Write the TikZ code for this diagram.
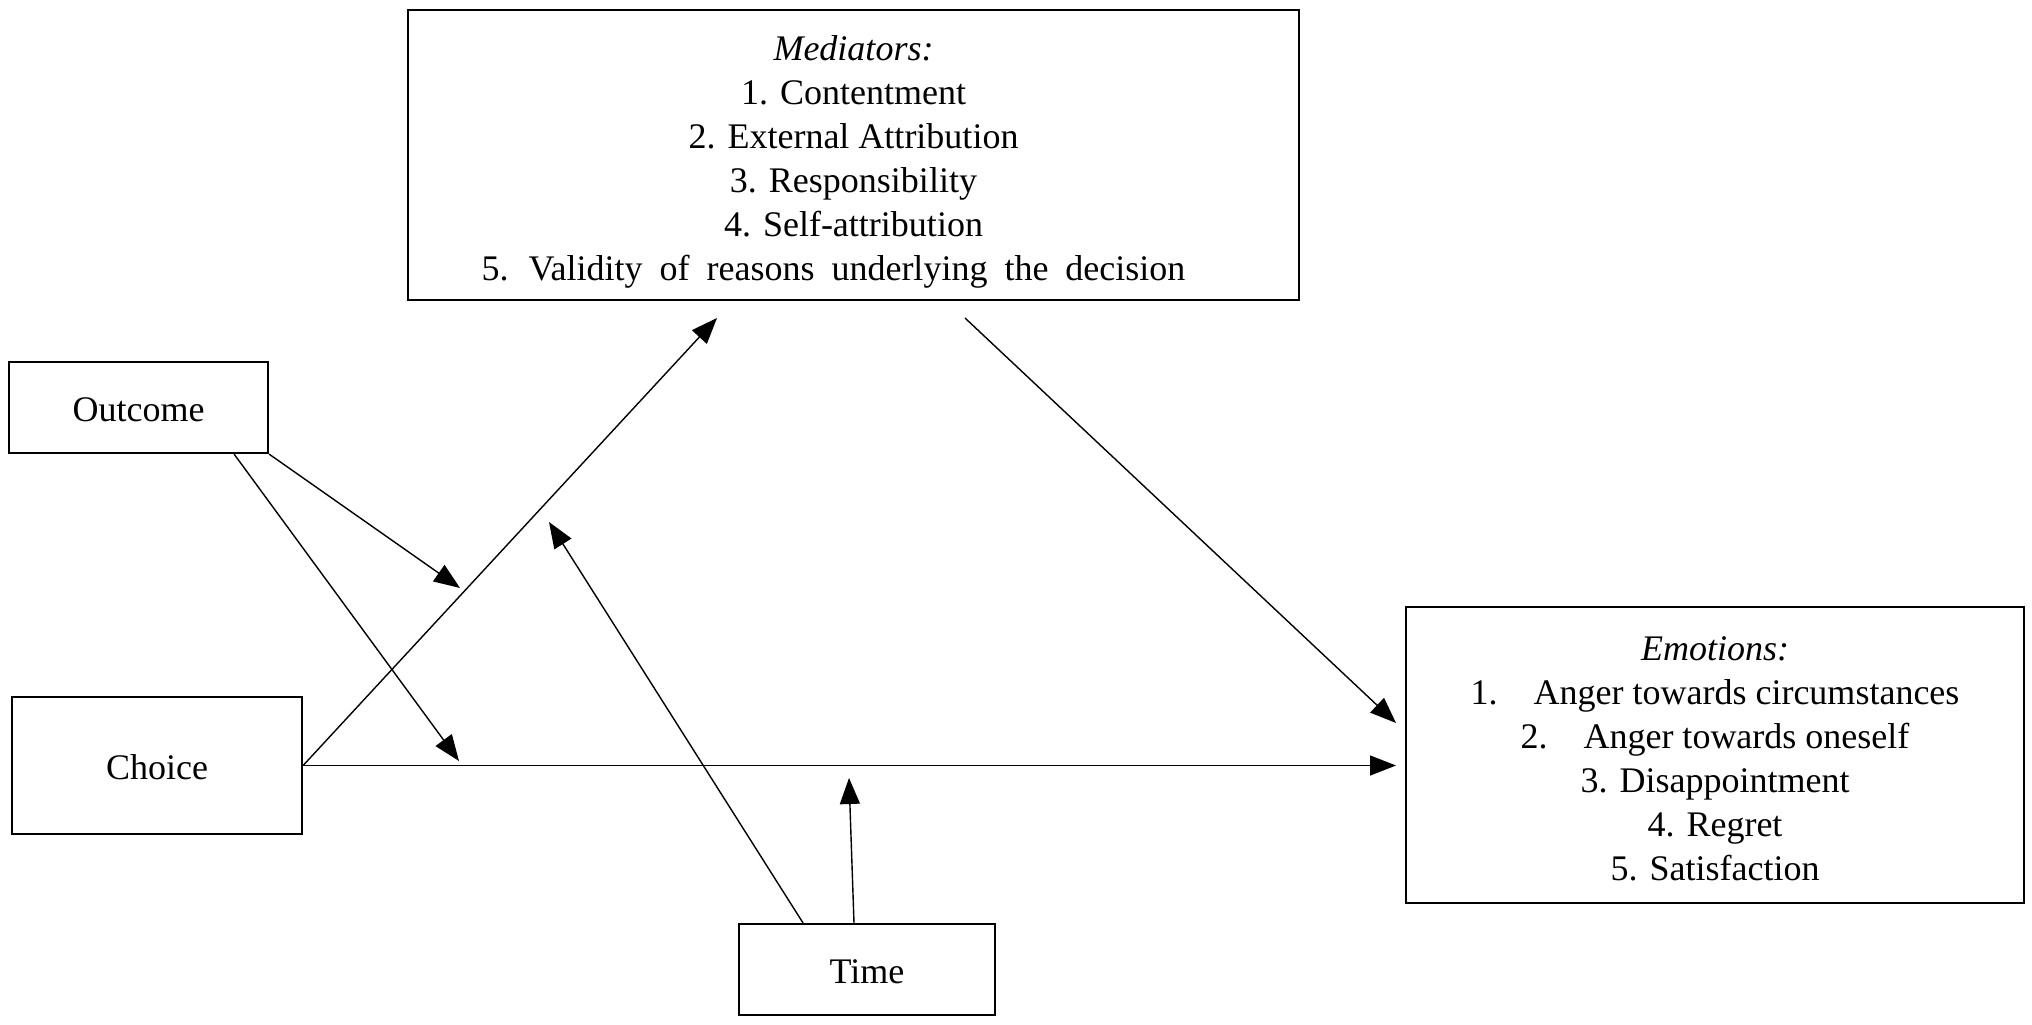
\documentclass[tikz,border=0pt]{standalone}
\usepackage{fontspec}
\setmainfont{Liberation Serif}
\usetikzlibrary{arrows.meta}
\begin{document}
\begin{tikzpicture}[x=1pt,y=-1pt,
  box/.style={draw,line width=2.2pt,inner sep=0pt},
  txt/.style={align=center,inner sep=0pt,font=\fontsize{36}{44}\selectfont},
  conn/.style={line width=1.4pt,-{Triangle[length=26pt,width=20pt]}}]
\useasboundingbox[fill=white] (0,0) rectangle (2032,1025);
\node[box,minimum width=891pt,minimum height=290pt,
  label={[txt,yshift=-6.5pt]center:{\textit{Mediators:}\\1. Contentment\\2. External Attribution\\3. Responsibility\\4. Self-attribution\\{\spaceskip=17pt 5. Validity of reasons underlying the decision}\hspace*{40pt}}}] (med) at (853.5,155) {};
\node[box,minimum width=618pt,minimum height=296pt,
  label={[txt,yshift=-3.5pt]center:{\textit{Emotions:}\\1.\hspace{1em}Anger towards circumstances\\2.\hspace{1em}Anger towards oneself\\3. Disappointment\\4. Regret\\5. Satisfaction}}] (emo) at (1715,755) {};
\node[box,minimum width=259pt,minimum height=91pt,label={[txt,yshift=-2.5pt]center:Outcome}] (out) at (138.5,407.5) {};
\node[box,minimum width=290pt,minimum height=137pt,label={[txt,yshift=-2pt]center:Choice}] (cho) at (157,765.5) {};
\node[box,minimum width=256pt,minimum height=91pt,label={[txt,yshift=-2pt]center:Time}] (tim) at (867,969.5) {};
\coordinate (medIn) at (717,318);
\coordinate (medOut) at (965,318);
\coordinate (emoIn) at (1396,723);
\coordinate (emoIn2) at (1396,765.5);
\coordinate (modA) at (460,588);
\coordinate (modB) at (459,761);
\coordinate (modC) at (549,522);
\coordinate (modD) at (849,778);
\draw[conn] (cho.east) -- (medIn);
\draw[conn] (medOut) -- (emoIn);
\draw[conn] (cho.east) -- (emoIn2);
\draw[conn] (out.south east) -- (modA);
\draw[conn] ([xshift=-35pt]out.south east) -- (modB);
\draw[conn] ([xshift=-64pt]tim.north) -- (modC);
\draw[conn] ([xshift=-13pt]tim.north) -- (modD);
\end{tikzpicture}
\end{document}
